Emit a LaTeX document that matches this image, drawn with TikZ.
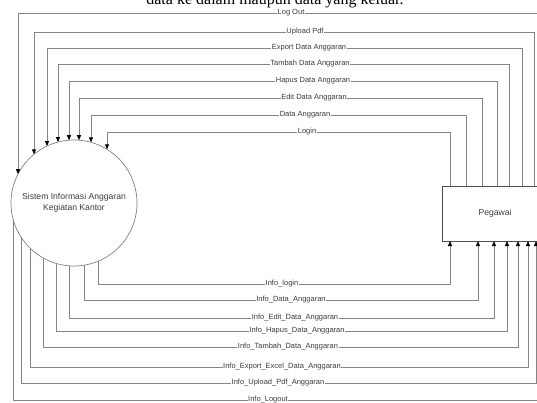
\documentclass[tikz,border=0pt]{standalone}
\usepackage{fontspec}
\setmainfont{Liberation Sans}
\newfontfamily\serifdoc{Liberation Serif}
\usetikzlibrary{arrows.meta,calc}
\definecolor{linegray}{HTML}{858585}
\definecolor{txtgray}{HTML}{3C3C3C}
\tikzset{
  flow/.style={draw=linegray, line width=0.9pt, -{Triangle[length=5pt,width=4pt,black]}},
  lbl/.style={fill=white, inner sep=0.6pt, text=txtgray, font=\fontsize{7.5}{8}\selectfont},
  proc/.style={circle, draw=gray, line width=0.7pt, minimum size=126pt, inner sep=0pt, outer sep=0pt,
    align=center, text=txtgray, font=\fontsize{8.6}{11}\selectfont},
  ent/.style={draw=black!70, line width=0.8pt, minimum width=106pt, minimum height=55pt,
    inner sep=0pt, outer sep=0pt, text=txtgray, font=\fontsize{8.6}{11}\selectfont},
  hdrtext/.style={font=\serifdoc\fontsize{16}{18}\selectfont, anchor=base, inner sep=0pt},
}
% #1 name, #2 label, #3 y, #4 x at circle, #5 x at box, #6 label x
\newcommand\TopFlow[6]{%
  \draw[flow] ([xshift={(#5-442)*1pt}]p.north west) |- (#4,#3)
     -- ($(c.center)+({#4-74},{-sqrt(63^2-(#4-74)^2)})$);
  \node[lbl] (#1) at (#6,#3) {#2};}
\newcommand\BotFlow[6]{%
  \draw[flow] ($(c.center)+({#4-74},{sqrt(63^2-(#4-74)^2)})$) |- (#5,#3)
     -- ([xshift={(#5-442)*1pt}]p.south west);
  \node[lbl] (#1) at (#6,#3) {#2};}
\begin{document}
\begin{tikzpicture}[x=1pt,y=-1pt]
\useasboundingbox (0,0) rectangle (537,403);
\clip (0,0) rectangle (537,403);
\node[hdrtext] (hdr) at (275,4.3) {data ke dalam maupun data yang keluar.};
\node[proc] (c) at (74,203) {Sistem Informasi Anggaran\\Kegiatan Kantor};
\node[ent, anchor=north west] (p) at (442,186) {Pegawai};
\TopFlow{t1}{Log Out}{13}{18}{545}{291}
\TopFlow{t2}{Upload Pdf}{32}{34}{534}{305}
\TopFlow{t3}{Export Data Anggaran}{48}{47}{522}{309}
\TopFlow{t4}{Tambah Data Anggaran}{64}{58}{509}{310}
\TopFlow{t5}{Hapus Data Anggaran}{81}{69}{497}{313}
\TopFlow{t6}{Edit Data Anggaran}{98}{79}{482}{314}
\TopFlow{t7}{Data Anggaran}{115}{91}{466}{305}
\TopFlow{t8}{Login}{132}{107}{450}{307}
\BotFlow{b1}{Info\_login}{284}{98}{450}{282}
\BotFlow{b2}{Info\_Data\_Anggaran}{300}{84}{478}{291}
\BotFlow{b3}{Info\_Edit\_Data\_Anggaran}{318}{69}{494}{295}
\BotFlow{b4}{Info\_Hapus\_Data\_Anggaran}{331}{56}{507}{297}
\BotFlow{b5}{Info\_Tambah\_Data\_Anggaran}{347}{43}{518}{288}
\BotFlow{b6}{Info\_Export\_Excel\_Data\_Anggaran}{367}{30}{528}{282}
\BotFlow{b7}{Info\_Upload\_Pdf\_Anggaran}{383}{21}{536}{278}
\BotFlow{b8}{Info\_Logout}{400}{13}{545}{268}
\end{tikzpicture}
\end{document}
